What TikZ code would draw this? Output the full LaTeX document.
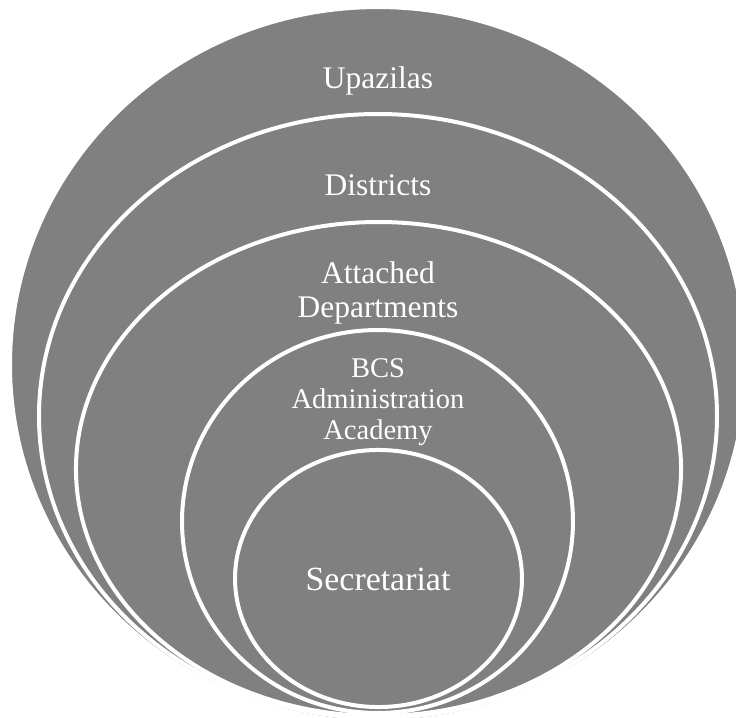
\documentclass[tikz,border=0pt]{standalone}
\usepackage{fontspec}
\setmainfont{Liberation Serif}
\definecolor{ringgray}{RGB}{128,128,128}
\begin{document}
\begin{tikzpicture}[x=0.75pt,y=-0.75pt,
  ring/.style={fill=ringgray, draw=white, line width=3pt},
  lbl/.style={text=white, anchor=base, align=center, inner sep=0pt,
    font=\fontsize{23.6}{24.8}\selectfont}]
\useasboundingbox (0,0) rectangle (736,718);
\begin{scope}
\clip (0,0) rectangle (736,718);
\path[ring] (378,364.5) ellipse [x radius=276pt, y radius=268.1pt];
\path[ring] (378,416) ellipse [x radius=254.25pt, y radius=226.5pt];
\path[ring] (378.5,469) ellipse [x radius=226.9pt, y radius=185.25pt];
\path[ring] (377.5,521.5) ellipse [x radius=146.6pt, y radius=143.6pt];
\path[ring] (378.5,578.5) ellipse [x radius=107.6pt, y radius=96.4pt];
\end{scope}
\node[lbl] (upa) at (378,88) {Upazilas};
\node[lbl] (dis) at (378,195) {Districts};
\node[lbl] (att) at (378,317) {Attached\\Departments};
\node[lbl, font=\fontsize{21.4}{22.9}\selectfont] (bcs) at (378,439) {BCS\\Administration\\Academy};
\node[lbl, font=\fontsize{25.4}{27}\selectfont] (sec) at (378,590) {Secretariat};
\end{tikzpicture}
\end{document}
